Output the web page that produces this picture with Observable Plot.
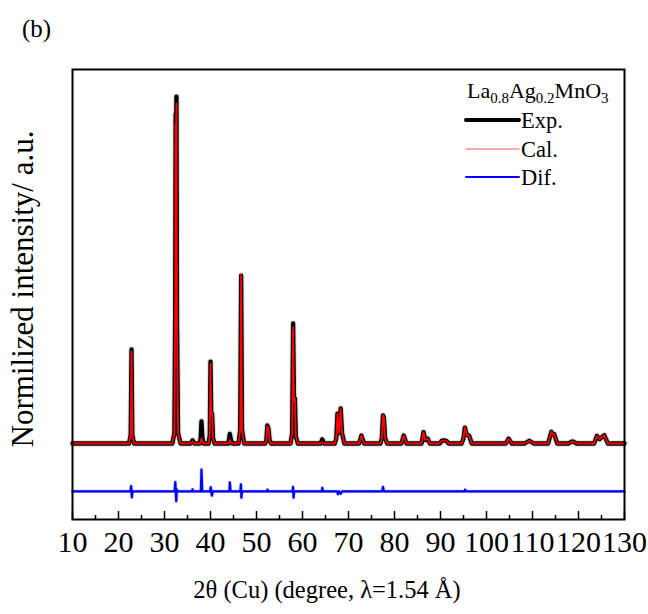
<!DOCTYPE html>
<html><head><meta charset="utf-8">
<script src="https://cdn.jsdelivr.net/npm/d3@7"></script>
<script src="https://cdn.jsdelivr.net/npm/@observablehq/plot@0.6"></script>
<style>
body{margin:0;background:#fff;}
svg{display:block;}
#chart svg text{font-family:"Liberation Serif","Times New Roman",serif;}
</style>
</head><body><div id="chart"></div>
<script>
const twoTheta = [10,22.3,22.65,22.83,23.0,23.4,31.7,32.15,32.33,32.42,32.5,32.6,32.72,32.95,33.5,35.7,36.1,36.5,37.7,37.85,38.04,38.25,38.5,39.6,39.85,40.0,40.15,40.35,40.55,40.9,43.9,44.0,44.2,44.45,44.7,46.1,46.45,46.66,46.85,47.3,51.9,52.15,52.35,52.6,52.85,53.2,57.4,57.75,57.96,58.15,58.35,58.55,59.0,63.9,64.3,64.7,67.0,67.35,67.6,67.9,68.3,68.6,69.1,72.3,72.8,73.4,76.9,77.25,77.5,77.7,77.95,78.4,81.5,82.0,82.6,85.9,86.3,86.7,87.2,87.7,89.8,90.3,90.8,91.3,91.8,94.6,95.0,95.3,95.7,96.2,96.8,104.2,104.8,105.5,108.3,109.3,110.3,113.4,114.1,114.4,114.7,115.4,117.8,118.7,119.6,123.4,124.0,124.6,125.6,126.4,130];
const expI = [0,0,2.5,27.1,2.5,0,0,3,40,95,88,100,35,3,0,0,0.9,0,0,1.5,6.4,1.5,0,0,2.5,23.6,9,8.6,1.5,0,0,1,2.8,1,0,0,4,48.4,4,0,0,1,5.2,4.3,1,0,0,3,34.6,13,13,2,0,0,1.2,0,0,1.5,8.6,3,10.1,3,0,0,2.3,0,0,1.5,8.1,7.5,1.5,0,0,2.3,0,0,3.3,1,1.4,0,0,0.8,0.9,0.7,0,0,1.5,4.6,2.5,2.3,0,0,1.4,0,0,0.8,0,0,3.4,2.6,2.7,0,0,0.6,0,0,2.2,1.3,2.4,0,0];
const calI = [0,0,2.5,26.5,2.5,0,0,3,38,92,86,98,33,3,0,0,0.6,0,0,0.6,1.5,0.6,0,0,2.5,23,8,9,1.5,0,0,0.3,1,0.3,0,0,4,48.6,4,0,0,1,5.0,4.3,1,0,0,3,33.5,12,13,2,0,0,0.4,0,0,1.5,8.6,3,10.1,3,0,0,2.3,0,0,1.5,8.1,7.5,1.5,0,0,2.3,0,0,3.3,1,1.4,0,0,0.8,0.9,0.7,0,0,1.5,4.6,2.5,2.3,0,0,1.4,0,0,0.8,0,0,3.4,2.6,2.7,0,0,0.6,0,0,2.2,1.3,2.4,0,0];
// Difference curve key points (relative to its own baseline)
const difTheta = [10,22.6,22.75,22.9,23.05,32.2,32.35,32.55,32.7,32.85,36.0,36.1,36.2,37.9,38.04,38.2,39.9,40.05,40.3,40.5,44.1,44.2,44.35,44.5,46.5,46.62,46.72,46.85,52.3,52.4,52.5,57.85,57.95,58.05,58.2,64.2,64.3,64.45,67.5,67.7,67.9,68.3,68.6,77.3,77.5,77.7,95.2,95.35,95.5,130];
const difI = [0,0,1.5,-1.7,0,0,2.7,-2.8,0.5,0,0,0.6,0,0,6.3,0,0,1.2,-1.2,0,0,2.6,0.2,0,0,2.0,-1.8,0,0,0.5,0,0,1.3,-1.8,0,0,1.0,0,0,-0.8,0,-0.7,0,0,1.3,0,0,0.5,0,0];
const difBaseline = -13.8;
const xMajor = [10,20,30,40,50,60,70,80,90,100,110,120,130];
const xMinor = [15,25,35,45,55,65,75,85,95,105,115,125];
const sampleName = ["La","0.8","Ag","0.2","MnO","3"];
const seriesNames = ["Exp.","Cal.","Dif."];
const seriesColors = ["#000000","#ff0000","#0000ff"];
const xTitle = "2θ (Cu) (degree, λ=1.54 Å)";
const yTitle = "Normilized intensity/ a.u.";
const panelTag = "(b)";

const profile = twoTheta.map((t, i) => ({t, exp: expI[i], cal: calI[i]}));
const dif = difTheta.map((t, i) => ({t, d: difBaseline + difI[i]}));

const font = "Liberation Serif";
const W = 648, H = 614, mL = 72, mR = 24, mT = 69, mB = 95;

const svg = Plot.plot({
  width: W, height: H,
  marginLeft: mL, marginRight: mR, marginTop: mT, marginBottom: mB,
  style: {color: "black", background: "white", overflow: "visible"},
  x: {domain: [10, 130]},
  y: {domain: [-21.9, 107.8], axis: null},
  marks: [
    Plot.line(profile, {x: "t", y: "exp", stroke: "#9a9a9a", strokeWidth: 6.5, strokeOpacity: 0.35, strokeLinejoin: "round"}),
    Plot.line(profile, {x: "t", y: "exp", stroke: seriesColors[0], strokeWidth: 4.3, strokeLinejoin: "round", strokeLinecap: "round"}),
    Plot.line(profile, {x: "t", y: "cal", stroke: seriesColors[1], strokeWidth: 1.8, strokeLinejoin: "round"}),
    Plot.line(dif, {x: "t", y: "d", stroke: "#6a6aff", strokeWidth: 3.4, strokeOpacity: 0.45, strokeLinejoin: "round"}),
    Plot.line(dif, {x: "t", y: "d", stroke: seriesColors[2], strokeWidth: 2.2, strokeLinejoin: "round"}),
    Plot.ruleX(xMajor, {x: d => d, insetTop: 450 - 8, stroke: "black", strokeWidth: 1.5}),
    Plot.ruleX(xMinor, {x: d => d, insetTop: 450 - 4, stroke: "black", strokeWidth: 1.5}),
    Plot.axisX({ticks: xMajor, tickSize: 0, tickPadding: 11, fontSize: 30, tickFormat: d => String(d), label: null}),
    Plot.frame({stroke: "black", strokeWidth: 2})
  ]
});

const s = d3.select(svg);
s.append("text").attr("x", 22).attr("y", 37).attr("text-anchor", "start").attr("font-size", 25).attr("fill", "black").text(panelTag);
s.append("text").attr("x", 327).attr("y", 598).attr("text-anchor", "middle").attr("font-size", 24.5).attr("fill", "black").text(xTitle);
s.append("text").attr("transform", "translate(33,289) rotate(-90)").attr("text-anchor", "middle").attr("font-size", 31).attr("fill", "black").text(yTitle);

// legend
const lg = s.append("g").attr("fill", "black").attr("text-anchor", "start");
const t = lg.append("text").attr("x", 467).attr("y", 98).attr("font-size", 22).attr("text-anchor", "start");
sampleName.forEach((part, i) => {
  const sub = i % 2 === 1;
  t.append("tspan").attr("font-size", sub ? 15 : 22).attr("dy", sub ? 5 : (i === 0 ? 0 : -5)).text(part);
});
const rowsY = [120, 149, 177];
const widths = [4, 1.2, 2];
seriesNames.forEach((name, i) => {
  lg.append("line").attr("x1", 466).attr("x2", 519).attr("y1", rowsY[i]).attr("y2", rowsY[i])
    .attr("stroke", i === 1 ? "#f05a5a" : seriesColors[i]).attr("stroke-width", widths[i]).attr("stroke-linecap", "round");
  lg.append("text").attr("x", 521).attr("y", rowsY[i] + 8).attr("font-size", 22.5).attr("text-anchor", "start").text(name);
});

document.getElementById("chart").appendChild(svg);
</script>
</body></html>
